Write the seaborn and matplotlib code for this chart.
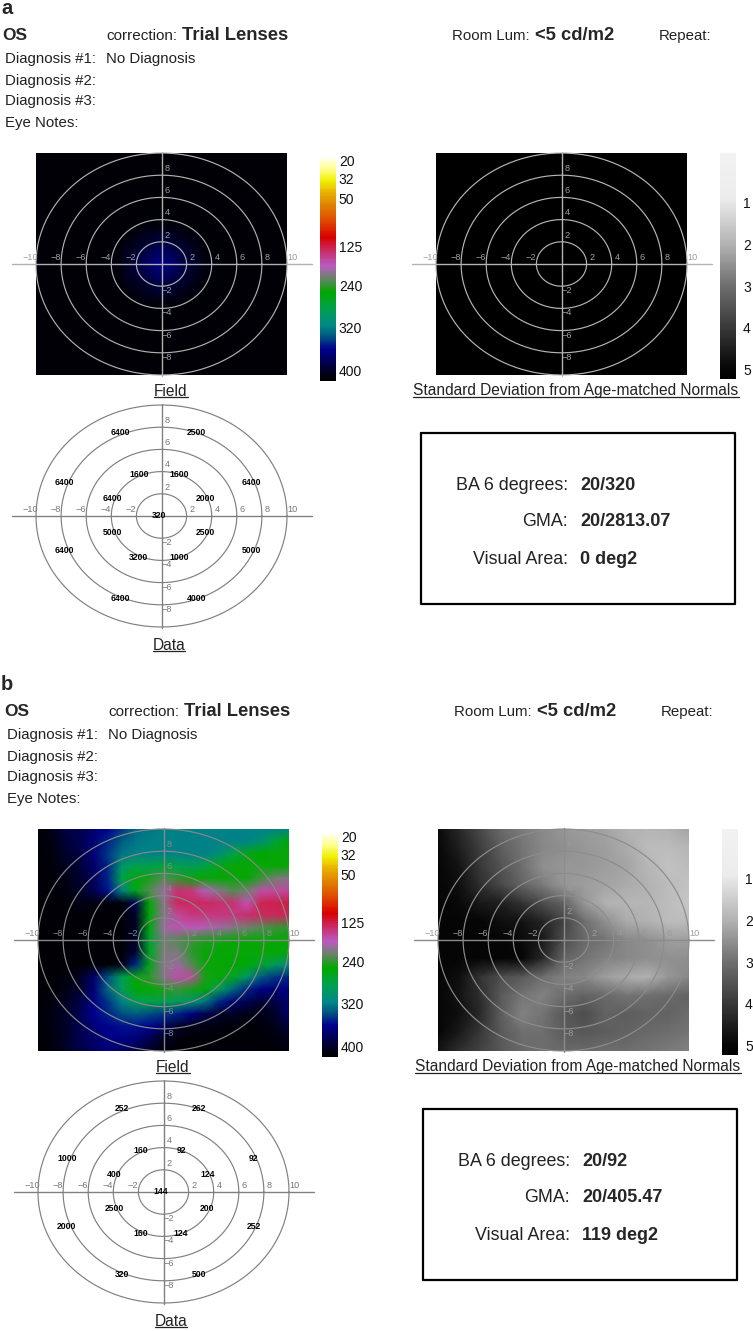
import seaborn as sns
import matplotlib.pyplot as plt
import numpy as np
from matplotlib.colors import LinearSegmentedColormap, FuncNorm, Normalize

sns.set_style('white')
plt.rcParams['font.family'] = ['Liberation Sans', 'DejaVu Sans']

W, H = 753, 1331

# field scale: colorbar labels and where they sit along the bar (0 top, 1 bottom)
field_ticks = [20, 32, 50, 125, 240, 320, 400]
field_scale_vals = [15, 20, 32, 50, 125, 240, 320, 400, 450]
field_scale_pos = [0.0, 0.015, 0.097, 0.187, 0.399, 0.575, 0.761, 0.951, 1.0]
field_color_pos = [0, .05, .105, .157, .216, .276, .358, .425, .485, .537, .604,
                   .679, .754, .806, .858, .918, .978, 1]
field_colors = ['#fffff4', '#ffff90', '#f0f000', '#e8b000', '#e08000', '#e05000',
                '#d80000', '#c83070', '#b85cc0', '#708070', '#00a800', '#00a050',
                '#008888', '#005080', '#000090', '#000050', '#000010', '#000000']

sd_ticks = [1, 2, 3, 4, 5]
sd_color_pos = [0, .2, .3, .41, .583, .775, .957, 1]
sd_colors = ['#f2f2f2', '#ececec', '#d0d0d0', '#b0b0b0', '#707070', '#383838', '#050505', '#000000']

# retinal sensitivity grids, rows top to bottom, -10..10 deg
field_a = [
    [440] * 13, [440] * 13, [440] * 13, [440] * 13,
    [440, 440, 440, 440, 440, 435, 425, 435, 440, 440, 440, 440, 440],
    [440, 440, 440, 440, 435, 402, 385, 402, 435, 440, 440, 440, 440],
    [440, 440, 440, 440, 425, 385, 362, 385, 425, 440, 440, 440, 440],
    [440, 440, 440, 440, 435, 402, 385, 402, 435, 440, 440, 440, 440],
    [440, 440, 440, 440, 440, 435, 425, 435, 440, 440, 440, 440, 440],
    [440] * 13, [440] * 13, [440] * 13, [440] * 13,
]
field_b = [
    [440, 420, 390, 385, 375, 360, 345, 330, 322, 320, 320, 320, 320, 320, 320, 320, 320, 320, 318],
    [440, 425, 395, 385, 370, 350, 335, 322, 320, 320, 320, 320, 320, 320, 320, 318, 305, 275, 255],
    [440, 430, 400, 390, 370, 345, 325, 320, 320, 320, 320, 320, 320, 308, 280, 262, 252, 250, 250],
    [440, 435, 410, 395, 375, 350, 300, 285, 285, 275, 285, 290, 280, 260, 250, 250, 250, 250, 250],
    [440, 440, 420, 400, 380, 350, 285, 255, 245, 225, 240, 250, 250, 250, 250, 250, 235, 215, 205],
    [440, 440, 430, 405, 385, 355, 320, 260, 225, 195, 145, 150, 185, 205, 225, 215, 170, 165, 165],
    [440, 440, 440, 420, 425, 430, 430, 380, 250, 205, 135, 135, 135, 140, 145, 175, 130, 128, 125],
    [440, 440, 440, 440, 440, 440, 440, 400, 255, 205, 165, 150, 150, 150, 150, 140, 135, 135, 130],
    [440, 440, 440, 440, 440, 440, 440, 405, 260, 195, 175, 180, 185, 195, 205, 215, 225, 235, 240],
    [440, 440, 440, 440, 440, 440, 440, 400, 270, 215, 225, 238, 245, 248, 250, 250, 250, 250, 250],
    [440, 440, 440, 440, 440, 440, 440, 395, 265, 210, 210, 240, 250, 250, 250, 250, 250, 250, 250],
    [440, 440, 440, 440, 440, 440, 425, 350, 260, 205, 195, 225, 250, 250, 252, 255, 270, 290, 310],
    [440, 440, 430, 410, 375, 340, 290, 255, 240, 205, 170, 165, 245, 250, 265, 300, 335, 345, 350],
    [440, 440, 420, 400, 370, 330, 290, 255, 250, 245, 235, 245, 255, 290, 330, 350, 365, 370, 365],
    [440, 430, 410, 390, 365, 345, 320, 290, 280, 285, 290, 300, 325, 350, 370, 385, 395, 390, 370],
    [440, 425, 400, 385, 360, 350, 340, 335, 340, 345, 350, 365, 385, 400, 410, 420, 420, 400, 375],
    [440, 425, 400, 385, 370, 360, 355, 355, 360, 375, 400, 415, 425, 430, 435, 435, 430, 415, 395],
    [440, 430, 405, 385, 375, 365, 365, 370, 385, 410, 430, 440, 440, 440, 440, 440, 440, 430, 415],
    [440, 430, 405, 390, 380, 370, 375, 390, 410, 430, 440, 440, 440, 440, 440, 440, 440, 440, 430],
]
# standard deviation grids
sd_a = [[5.2] * 13 for _ in range(13)]
sd_b = [
    [4.9, 4.3, 3.7, 3.1, 2.8, 2.6, 2.4, 2.3, 2.2, 2.0, 1.9, 2.0, 2.2],
    [4.95, 4.5, 3.9, 3.3, 2.9, 2.6, 2.5, 2.4, 2.3, 2.1, 1.8, 1.8, 1.9],
    [5.0, 4.7, 4.0, 3.5, 3.0, 2.5, 2.4, 2.4, 2.3, 2.2, 1.9, 1.7, 1.8],
    [5.0, 4.8, 4.2, 3.7, 3.2, 2.8, 2.4, 2.3, 2.2, 2.1, 2.0, 1.8, 1.7],
    [5.0, 4.9, 4.6, 4.5, 4.1, 3.6, 3.2, 2.4, 2.0, 1.9, 1.9, 1.8, 1.6],
    [5.0, 5.0, 5.0, 4.8, 4.7, 4.4, 3.8, 3.0, 2.5, 2.1, 2.0, 1.8, 1.8],
    [5.0, 5.0, 5.0, 5.0, 4.9, 4.6, 3.6, 3.1, 2.9, 2.6, 2.5, 2.3, 2.3],
    [5.0, 5.0, 5.0, 5.0, 5.0, 4.3, 3.2, 2.9, 2.7, 2.6, 2.5, 2.5, 2.5],
    [5.0, 4.8, 4.1, 3.6, 3.4, 3.0, 2.7, 2.6, 2.3, 2.1, 2.0, 2.4, 2.6],
    [5.0, 4.7, 4.2, 3.4, 2.9, 2.7, 3.0, 3.2, 3.1, 2.9, 3.0, 3.1, 3.2],
    [5.0, 4.8, 4.3, 3.3, 2.7, 2.9, 3.4, 3.6, 3.2, 3.3, 3.2, 3.2, 3.0],
    [5.0, 4.6, 4.0, 3.4, 3.0, 3.0, 3.3, 3.4, 3.3, 3.2, 3.1, 3.0, 2.9],
    [4.7, 4.2, 3.8, 3.4, 3.1, 3.0, 3.1, 3.1, 3.0, 3.0, 2.9, 2.8, 2.7],
]

# data points, same test locations for both eyes
point_x = [-3.3, 2.8, -7.7, 7.2, -1.8, 1.4, -3.9, 3.5, -0.2, -3.9, 3.5, -7.7, 7.2, -1.8, 1.4, -3.3, 2.8]
point_y = [7.5, 7.5, 3.0, 3.0, 3.7, 3.7, 1.6, 1.6, 0.0, -1.5, -1.5, -3.1, -3.1, -3.7, -3.7, -7.4, -7.4]
data_a = [6400, 2500, 6400, 6400, 1600, 1600, 6400, 2000, 320, 5000, 2500, 6400, 5000, 3200, 1000, 6400, 4000]
data_b = [252, 262, 1000, 92, 160, 92, 400, 124, 144, 2500, 200, 2000, 252, 160, 124, 320, 500]

rings = [2, 4, 6, 8, 10]
axis_ticks = [-10, -8, -6, -4, -2, 2, 4, 6, 8, 10]

stats_a = ['20/320', '20/2813.07', '0 deg2']
stats_b = ['20/92', '20/405.47', '119 deg2']
stat_names = ['BA 6 degrees:', 'GMA:', 'Visual Area:']
diag_names = ['Diagnosis #1:', 'Diagnosis #2:', 'Diagnosis #3:', 'Eye Notes:']


def f_fwd(v):
    return np.interp(v, field_scale_vals, field_scale_pos)


def f_inv(t):
    return np.interp(t, field_scale_pos, field_scale_vals)


field_norm = FuncNorm((f_fwd, f_inv), vmin=15, vmax=450)
field_cmap = LinearSegmentedColormap.from_list('field', list(zip(field_color_pos, field_colors)))
sd_norm = Normalize(vmin=-0.2, vmax=5.23)
sd_cmap = LinearSegmentedColormap.from_list('sd', list(zip(sd_color_pos, sd_colors)))

fig = plt.figure(figsize=(W / 100, H / 100), dpi=100)
page = fig.add_axes([0, 0, 1, 1])
page.set_xlim(0, W)
page.set_ylim(H, 0)
page.axis('off')


def px_axes(x0, y0, x1, y1):
    return fig.add_axes([x0 / W, 1 - y1 / H, (x1 - x0) / W, (y1 - y0) / H])


def polar_grid(x0, y0, color, label_color):
    # ring overlay in degrees, x0,y0 = top left of the 20x20 deg square
    ax = px_axes(x0, y0, x0 + 251, y0 + 222)
    ax.patch.set_alpha(0)
    ax.set_xlim(-10, 10)
    ax.set_ylim(-10, 10)
    ax.axis('off')
    t = np.linspace(0, 2 * np.pi, 200)
    for r in rings:
        ax.plot(r * np.cos(t), r * np.sin(t), color=color, lw=0.85, clip_on=False)
    ax.plot([-11.95, 12], [0, 0], color=color, lw=1.0, clip_on=False)
    ax.plot([0, 0], [-10.05, 10.05], color=color, lw=1.0, clip_on=False)
    for v in axis_ticks:
        ax.text(v + np.sign(v) * 0.45, 0.6, str(v).replace('-', '\u2212'), color=label_color,
                fontsize=6.6, ha='center', va='center', clip_on=False)
        if abs(v) < 10:
            ax.text(0.45, v + (0.6 if v > 0 else -0.4), str(v).replace('-', '\u2212'),
                    color=label_color, fontsize=6.6, ha='center', va='center', clip_on=False)
    return ax


def map_panel(x0, y0, grid, cmap, norm, cx0, cy0, cy1, ticks, pad, ring_color, label_color):
    ax = px_axes(x0, y0, x0 + 251, y0 + 222)
    cax = px_axes(cx0, cy0, cx0 + 16, cy1)
    values = np.array(grid, dtype=float)
    sns.heatmap(values, ax=ax, cmap=cmap, norm=norm, cbar=True, cbar_ax=cax,
                xticklabels=False, yticklabels=False, shading='gouraud')
    ax.set_xlim(0, values.shape[1] - 1)
    ax.set_ylim(values.shape[0] - 1, 0)
    cax.set_yticks(ticks, [str(v) for v in ticks])
    cax.minorticks_off()
    cax.invert_yaxis()
    cax.tick_params(axis='y', length=0, pad=pad, labelsize=10, labelcolor='#111111')
    polar_grid(x0, y0, ring_color, label_color)


def underlined(x, y, s, gap):
    txt = page.text(x, y, s, fontsize=11.2, ha='center', va='center', color='#222222')
    fig.canvas.draw()
    box = txt.get_window_extent()
    page.plot([box.x0, box.x1], [y + gap, y + gap], color='#222222', lw=0.9)


def draw_panel(dx, dy, tag, field, sd, data, stats, ring_f, ring_s, lab_f, lab_s):
    page.text(1, 14 + dy, tag, fontsize=14.5, fontweight='bold', ha='left', va='baseline')
    page.text(2 + dx, 35 + dy, 'OS', fontsize=12.5, fontweight='bold', va='center')
    page.text(106 + dx, 36 + dy, 'correction:', fontsize=11, va='center', color='#222222')
    page.text(182 + dx, 35 + dy, 'Trial Lenses', fontsize=13.2, fontweight='bold', va='center')
    page.text(452 + dx, 36 + dy, 'Room Lum:', fontsize=10.8, va='center', color='#222222')
    page.text(535 + dx, 35 + dy, '<5 cd/m2', fontsize=13.2, fontweight='bold', va='center')
    page.text(659 + dx, 36 + dy, 'Repeat:', fontsize=10.8, va='center', color='#222222')
    for i, name in enumerate(diag_names):
        page.text(5 + dx, 59.5 + 21 * i + dy, name, fontsize=10.8, va='center', color='#222222')
    page.text(106 + dx, 59.5 + dy, 'No Diagnosis', fontsize=10.8, va='center', color='#222222')

    map_panel(36 + dx, 153 + dy, field, field_cmap, field_norm, 320 + dx, 157 + dy, 381 + dy,
              field_ticks, 2, ring_f, lab_f)
    map_panel(436 + dx, 153 + dy, sd, sd_cmap, sd_norm, 720 + dx, 153 + dy, 379 + dy,
              sd_ticks, 5, ring_s, lab_s)
    underlined(171 + dx, 391 + dy, 'Field', 6)
    underlined(576 + dx, 391 + dy, 'Standard Deviation from Age-matched Normals', 6)

    grid_ax = polar_grid(36 + dx, 405 + dy, '#808080', '#777777')
    for x, y, v in zip(point_x, point_y, data):
        grid_ax.text(x, y, str(v), fontsize=6.2, fontweight='bold', ha='center', va='center',
                     color='black', clip_on=False)
    underlined(169 + dx, 645 + dy, 'Data', 5.5)

    page.plot([421 + dx, 735 + dx, 735 + dx, 421 + dx, 421 + dx],
              [433 + dy, 433 + dy, 604 + dy, 604 + dy, 433 + dy], color='black', lw=1.6)
    for name, val, y in zip(stat_names, stats, [486, 522, 559]):
        page.text(568 + dx, y + dy, name, fontsize=12.9, ha='right', va='center', color='#222222')
        page.text(580 + dx, y + dy, val, fontsize=13, fontweight='bold', ha='left', va='center')


draw_panel(0, 0, 'a', field_a, sd_a, data_a, stats_a, '#b0b0b0', '#b4b4b4', '#a0a0a0', '#a0a0a0')
draw_panel(2, 676, 'b', field_b, sd_b, data_b, stats_b, '#888888', '#8c8c8c', '#8a8a8a', '#9a9a9a')

fig.savefig('out.png', dpi=100)
